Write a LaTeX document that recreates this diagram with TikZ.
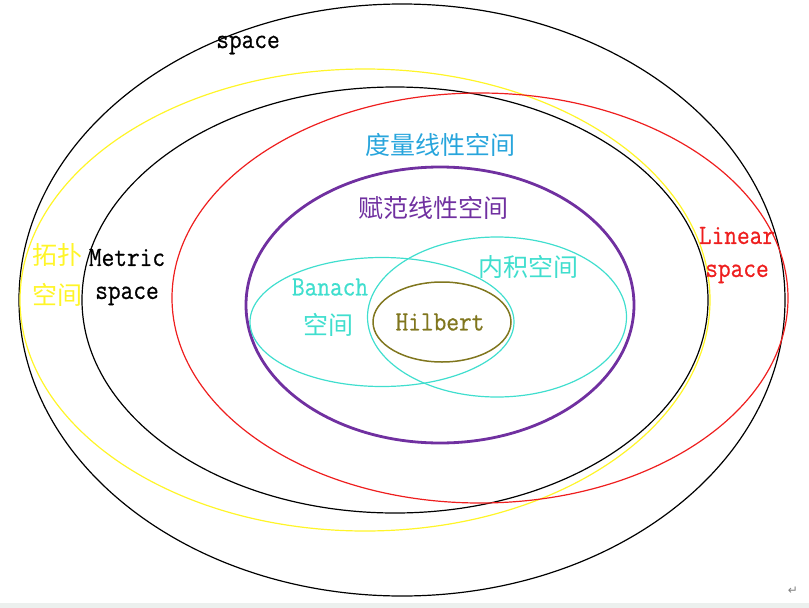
\documentclass[tikz,border=0pt]{standalone}
\usepackage{fontspec}
\usetikzlibrary{shapes.geometric}
\newfontfamily\cjk{Noto Sans CJK SC}
\newfontfamily\latinfont[FakeStretch=0.88, FakeBold=0.6]{Latin Modern Mono}
\newfontfamily\symfont{DejaVu Sans}
\definecolor{topoyellow}{RGB}{255,245,40}
\definecolor{linred}{RGB}{238,30,30}
\definecolor{metricblue}{RGB}{40,165,220}
\definecolor{normpurple}{RGB}{112,48,160}
\definecolor{innercyan}{RGB}{64,222,206}
\definecolor{hilbolive}{RGB}{128,118,30}
\definecolor{stripgray}{RGB}{236,240,238}

\begin{document}
\begin{tikzpicture}[
    x=1pt, y=-1pt,
    set/.style={ellipse, draw, inner sep=0pt, line width=1.2pt},
    latin/.style={inner sep=0pt, align=center, font=\fontsize{28}{33}\selectfont\latinfont},
    hanzi/.style={inner sep=0pt, align=center, font=\fontsize{25}{40}\selectfont\cjk}
]
\useasboundingbox (0,0) rectangle (809,608);
\fill[stripgray] (0,603) rectangle (809,608);

% Sets
\node[set, minimum width=766pt, minimum height=592pt] (topo) at (402,300) {};
\node[set, draw=topoyellow, minimum width=690pt, minimum height=462pt] (yellow) at (365,300) {};
\node[set, minimum width=626pt, minimum height=426pt] (metric) at (395,300) {};
\node[set, draw=linred, minimum width=616pt, minimum height=410pt] (linear) at (480,298) {};
\node[set, draw=normpurple, line width=2.8pt, minimum width=388pt, minimum height=276pt] (normed) at (440,305) {};
\node[set, draw=innercyan, minimum width=264pt, minimum height=129pt] (banach) at (382,322) {};
\node[set, draw=innercyan, minimum width=259pt, minimum height=160pt] (inner) at (497,317) {};
\node[set, draw=hilbolive, line width=1.5pt, minimum width=138pt, minimum height=80pt] (hilbert) at (442,322) {};

% Labels
\node[latin] (topo_l) at (248,45) {space};
\node[hanzi, text=topoyellow] (yellow_l) at (57,275) {拓扑\\空间};
\node[latin] (metric_l) at (127,277) {Metric\\space};
\node[latin, text=linred] (linear_l) at (737,255) {Linear\\space};
\node[hanzi, text=metricblue] (mlin_l) at (440,145) {度量线性空间};
\node[hanzi, text=normpurple] (normed_l) at (433,208) {赋范线性空间};
\node[latin, text=innercyan] (banach_l) at (330,287) {Banach};
\node[hanzi, text=innercyan] (banach_l2) at (328,325) {空间};
\node[hanzi, text=innercyan] (inner_l) at (528,267) {内积空间};
\node[latin, text=hilbolive] (hilbert_l) at (440,322) {Hilbert};

% Paragraph mark
\node[inner sep=0pt, text=gray, font=\fontsize{12}{12}\selectfont\symfont] (mark) at (793,591) {↵};
\end{tikzpicture}
\end{document}
